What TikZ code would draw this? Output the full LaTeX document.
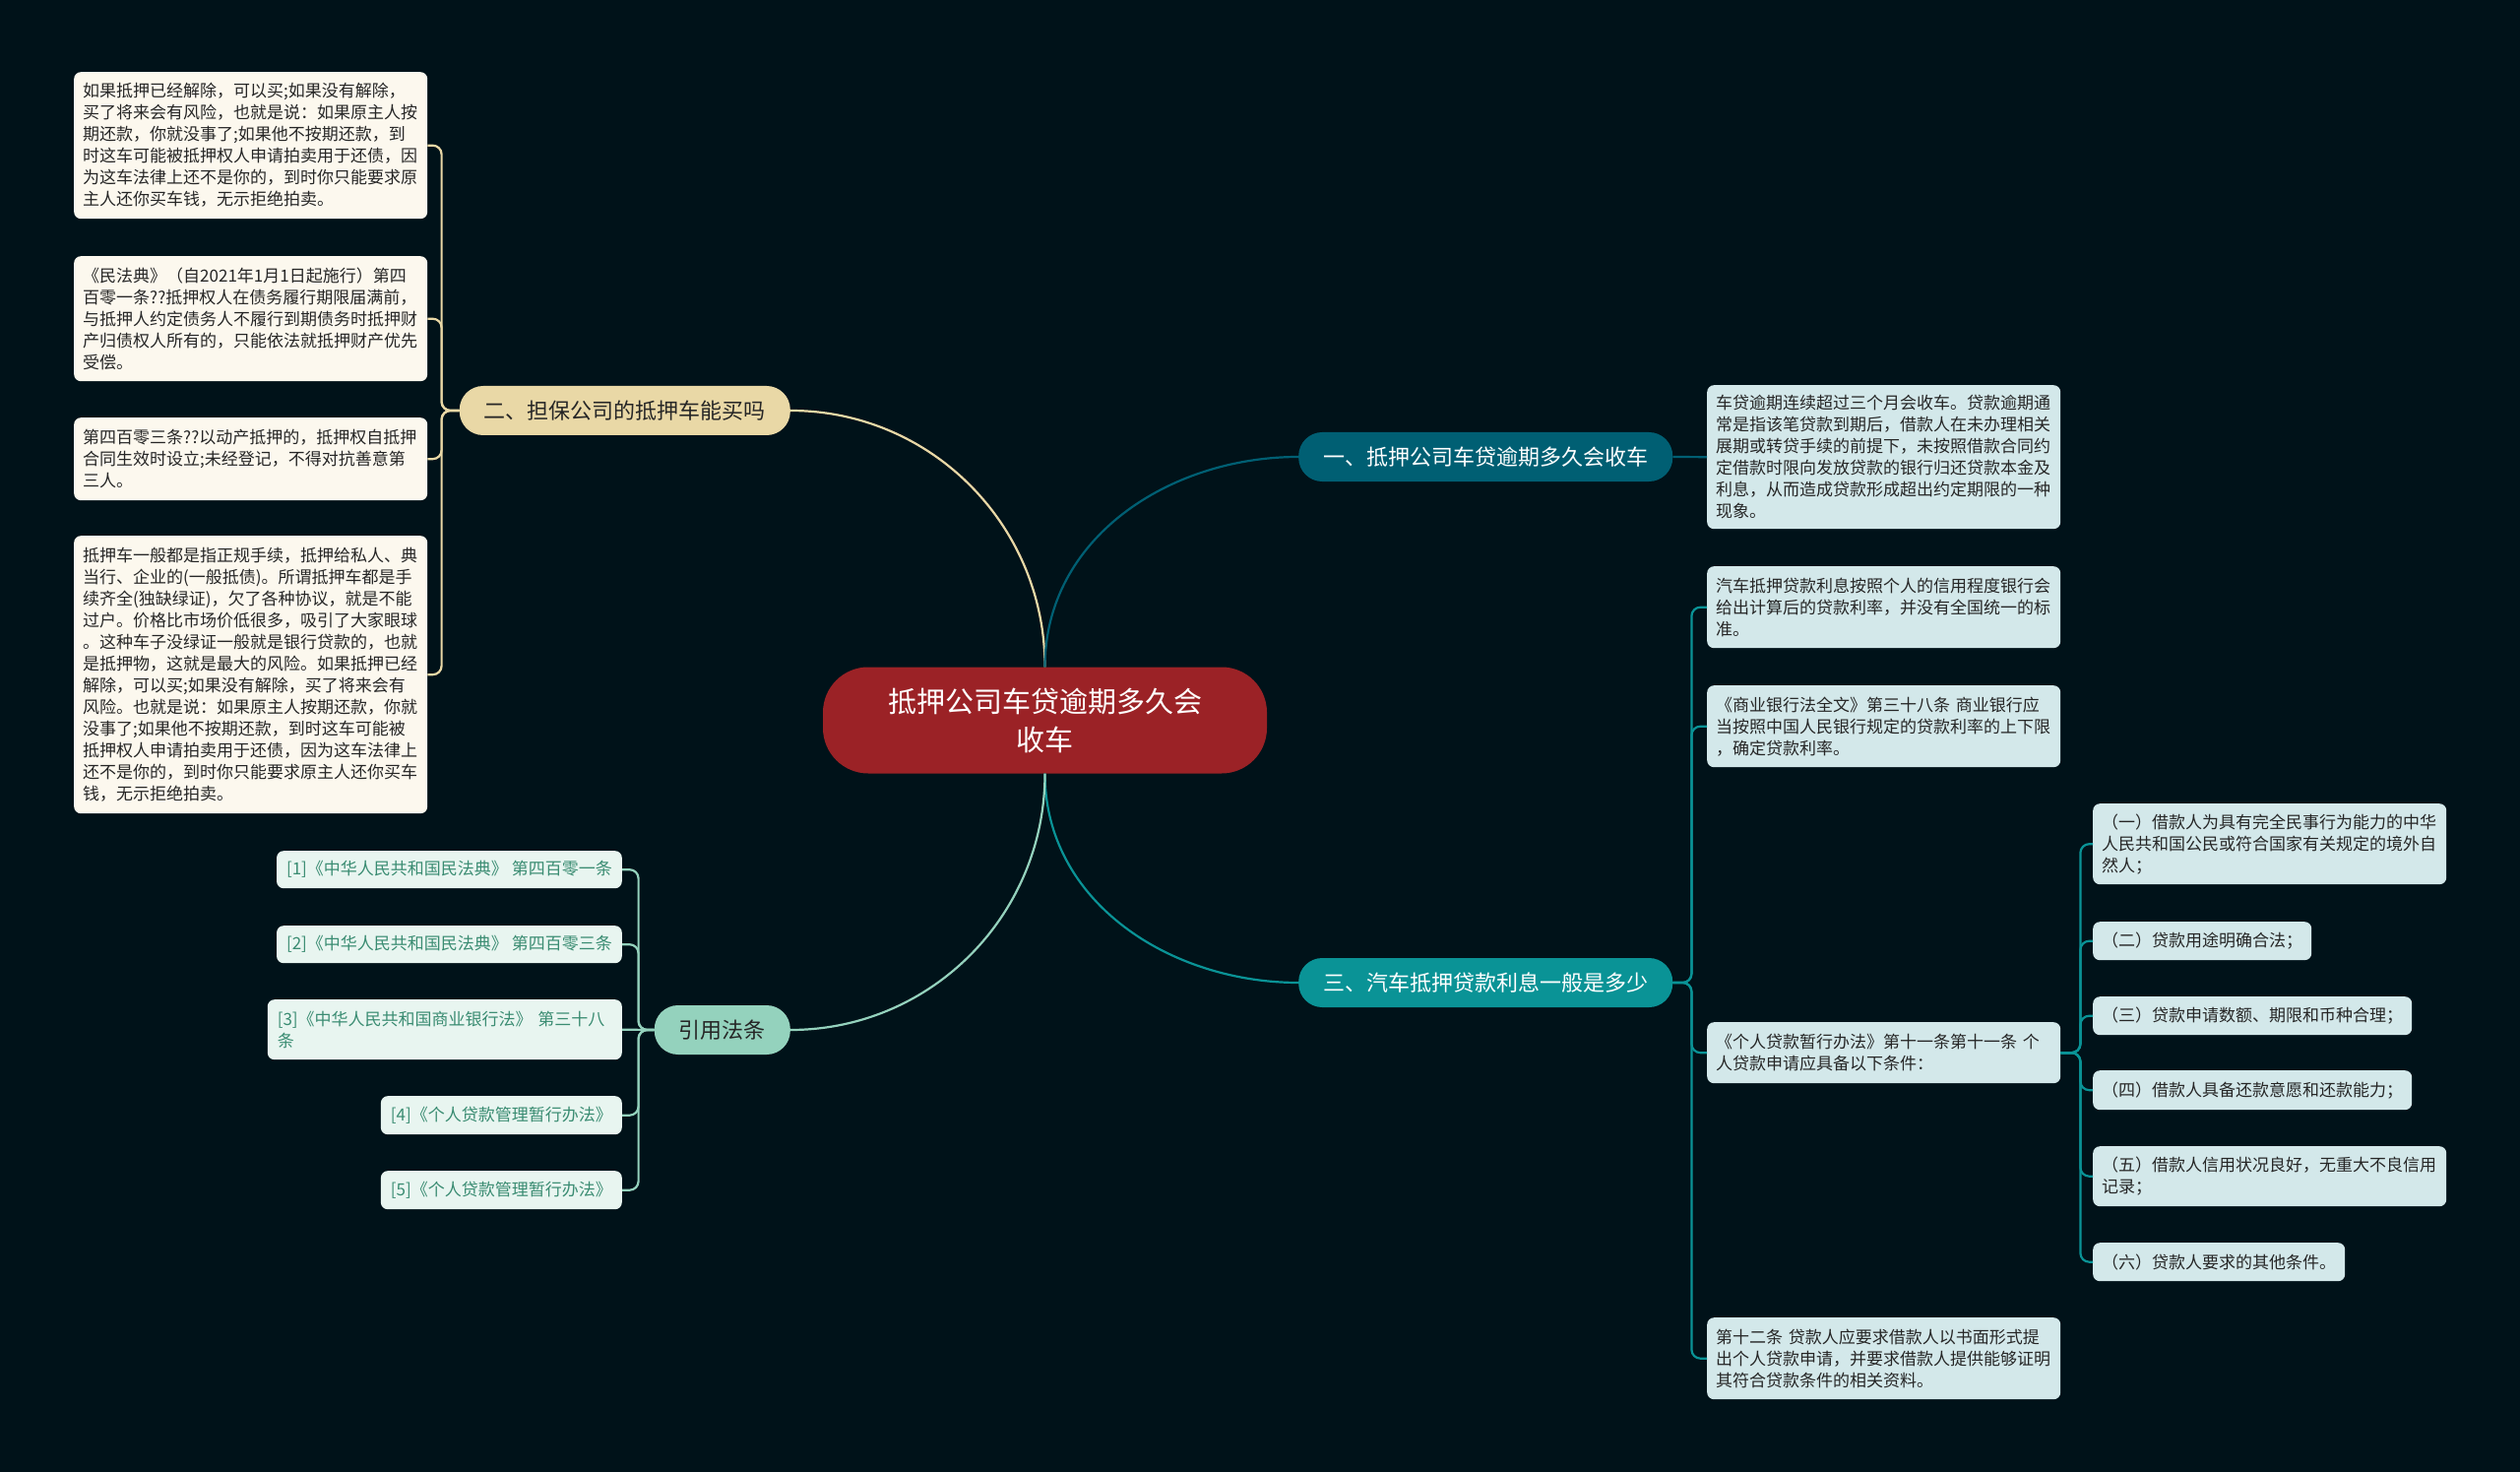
\documentclass[tikz,border=0pt]{standalone}
\usepackage{fontspec}
\setmainfont{Noto Sans CJK SC}
\usetikzlibrary{positioning}
\definecolor{bgcolor}{HTML}{001219}
\definecolor{rootcolor}{HTML}{9B2226}
\definecolor{darkteal}{HTML}{005F73}
\definecolor{tealcolor}{HTML}{0A9396}
\definecolor{mintcolor}{HTML}{94D2BD}
\definecolor{sandcolor}{HTML}{E9D8A6}
\definecolor{creamfill}{HTML}{FCF8EE}
\definecolor{icefill}{HTML}{D3E8EA}
\definecolor{mintfill}{HTML}{E8F5F0}
\definecolor{reftext}{HTML}{3A8C72}
\definecolor{inktext}{HTML}{262626}

\begin{document}
\begin{tikzpicture}[x=1pt, y=1pt,
  root/.style={fill=rootcolor, text=white, rounded corners=46pt, minimum width=451pt, minimum height=108pt, align=center, font=\fontsize{29}{39}\selectfont},
  topic/.style={rounded corners=24pt, minimum height=50pt, inner xsep=25pt, inner ysep=0pt, font=\fontsize{22}{26}\selectfont},
  note/.style={rounded corners=7pt, text=inktext, align=left, inner xsep=9pt, inner ysep=0pt, font=\fontsize{17}{22}\selectfont},
  wide/.style={text width=341pt},
  link/.style={line width=2.2pt, rounded corners=9pt},
]
\fill[bgcolor] (0,0) rectangle (2560,-1495);
\useasboundingbox (0,0) rectangle (2560,-1495);

% Root and topics
\node[root] (root) at (1061.5,-731.5) {抵押公司车贷逾期多久会\\收车};
\node[topic, fill=darkteal, text=white, anchor=west] (t1) at (1319,-464) {一、抵押公司车贷逾期多久会收车};
\node[topic, fill=tealcolor, text=white, anchor=west] (t3) at (1319,-998) {三、汽车抵押贷款利息一般是多少};
\node[topic, fill=sandcolor, text=inktext, anchor=east] (t2) at (803,-417) {二、担保公司的抵押车能买吗};
\node[topic, fill=mintcolor, text=inktext, anchor=east] (law) at (803,-1046) {引用法条};

% Left notes
\node[note, wide, fill=creamfill, minimum height=149pt, anchor=north west] (L1) at (75,-73) {如果抵押已经解除，可以买;如果没有解除，\\买了将来会有风险，也就是说：如果原主人按\\期还款，你就没事了;如果他不按期还款，到\\时这车可能被抵押权人申请拍卖用于还债，因\\为这车法律上还不是你的，到时你只能要求原\\主人还你买车钱，无示拒绝拍卖。};
\node[note, wide, fill=creamfill, minimum height=127pt, anchor=north west] (L2) at (75,-260) {《民法典》（自2021年1月1日起施行）第四\\百零一条??抵押权人在债务履行期限届满前，\\与抵押人约定债务人不履行到期债务时抵押财\\产归债权人所有的，只能依法就抵押财产优先\\受偿。};
\node[note, wide, fill=creamfill, minimum height=84pt, anchor=north west] (L3) at (75,-424) {第四百零三条??以动产抵押的，抵押权自抵押\\合同生效时设立;未经登记，不得对抗善意第\\三人。};
\node[note, wide, fill=creamfill, minimum height=282pt, anchor=north west] (L4) at (75,-544) {抵押车一般都是指正规手续，抵押给私人、典\\当行、企业的(一般抵债)。所谓抵押车都是手\\续齐全(独缺绿证)，欠了各种协议，就是不能\\过户。价格比市场价低很多，吸引了大家眼球\\。这种车子没绿证一般就是银行贷款的，也就\\是抵押物，这就是最大的风险。如果抵押已经\\解除，可以买;如果没有解除，买了将来会有\\风险。也就是说：如果原主人按期还款，你就\\没事了;如果他不按期还款，到时这车可能被\\抵押权人申请拍卖用于还债，因为这车法律上\\还不是你的，到时你只能要求原主人还你买车\\钱，无示拒绝拍卖。};

% References
\node[note, fill=mintfill, text=reftext, inner xsep=10pt, minimum height=38pt, anchor=north east] (R1) at (632,-864) {[1]《中华人民共和国民法典》~第四百零一条};
\node[note, fill=mintfill, text=reftext, inner xsep=10pt, minimum height=38pt, anchor=north east] (R2) at (632,-940) {[2]《中华人民共和国民法典》~第四百零三条};
\node[note, fill=mintfill, text=reftext, inner xsep=10pt, text width=340pt, minimum height=61pt, anchor=north east] (R3) at (632,-1015) {[3]《中华人民共和国商业银行法》~第三十八\\条};
\node[note, fill=mintfill, text=reftext, inner xsep=10pt, minimum height=39pt, anchor=north east] (R4) at (632,-1113) {[4]《个人贷款管理暂行办法》};
\node[note, fill=mintfill, text=reftext, inner xsep=10pt, minimum height=39pt, anchor=north east] (R5) at (632,-1189) {[5]《个人贷款管理暂行办法》};

% Right notes
\node[note, wide, fill=icefill, minimum height=146pt, anchor=north west] (N0) at (1734,-391) {车贷逾期连续超过三个月会收车。贷款逾期通\\常是指该笔贷款到期后，借款人在未办理相关\\展期或转贷手续的前提下，未按照借款合同约\\定借款时限向发放贷款的银行归还贷款本金及\\利息，从而造成贷款形成超出约定期限的一种\\现象。};
\node[note, wide, fill=icefill, minimum height=83pt, anchor=north west] (NA) at (1734,-575) {汽车抵押贷款利息按照个人的信用程度银行会\\给出计算后的贷款利率，并没有全国统一的标\\准。};
\node[note, wide, fill=icefill, minimum height=83pt, anchor=north west] (NB) at (1734,-696) {《商业银行法全文》第三十八条~商业银行应\\当按照中国人民银行规定的贷款利率的上下限\\，确定贷款利率。};
\node[note, wide, fill=icefill, minimum height=62pt, anchor=north west] (NC) at (1734,-1038) {《个人贷款暂行办法》第十一条第十一条~个\\人贷款申请应具备以下条件：};
\node[note, wide, fill=icefill, minimum height=83pt, anchor=north west] (ND) at (1734,-1338) {第十二条~贷款人应要求借款人以书面形式提\\出个人贷款申请，并要求借款人提供能够证明\\其符合贷款条件的相关资料。};

% Conditions
\node[note, wide, fill=icefill, minimum height=82pt, anchor=north west] (I1) at (2126,-816) {（一）借款人为具有完全民事行为能力的中华\\人民共和国公民或符合国家有关规定的境外自\\然人；};
\node[note, fill=icefill, minimum height=39pt, anchor=north west] (I2) at (2126,-936) {（二）贷款用途明确合法；};
\node[note, fill=icefill, minimum height=39pt, anchor=north west] (I3) at (2126,-1012) {（三）贷款申请数额、期限和币种合理；};
\node[note, fill=icefill, minimum height=40pt, anchor=north west] (I4) at (2126,-1087) {（四）借款人具备还款意愿和还款能力；};
\node[note, wide, fill=icefill, minimum height=61pt, anchor=north west] (I5) at (2126,-1164) {（五）借款人信用状况良好，无重大不良信用\\记录；};
\node[note, fill=icefill, minimum height=39pt, anchor=north west] (I6) at (2126,-1262) {（六）贷款人要求的其他条件。};

% Links
\draw[link, sandcolor] (root.north) to[out=90,in=0] (t2.east);
\draw[link, darkteal] (root.north) to[out=90,in=180] (t1.west);
\draw[link, tealcolor] (root.south) to[out=-90,in=180] (t3.west);
\draw[link, mintcolor] (root.south) to[out=-90,in=0] (law.east);
\draw[link, darkteal] (t1.east) -- (N0.west);
\foreach \n in {L1,L2,L3,L4}
  \draw[link, sandcolor] (t2.west) -- ++(-18,0) |- (\n.east);
\foreach \n in {R1,R2,R4,R5}
  \draw[link, mintcolor] (law.west) -- ++(-16,0) |- (\n.east);
\draw[link, mintcolor] (law.west) -- (R3.east);
\foreach \n in {NA,NB,NC,ND}
  \draw[link, tealcolor] (t3.east) -- ++(19,0) |- (\n.west);
\foreach \n in {I1,I2,I3,I4,I5,I6}
  \draw[link, tealcolor] (NC.east) -- ++(20,0) |- (\n.west);
\end{tikzpicture}
\end{document}
